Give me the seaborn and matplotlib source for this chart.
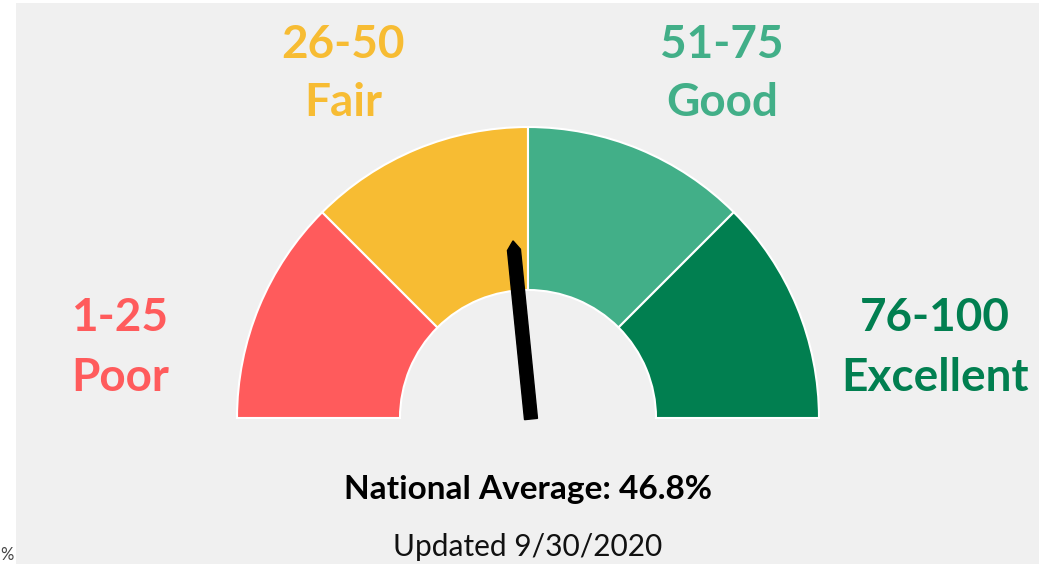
import numpy as np
import matplotlib
matplotlib.use("Agg")
import matplotlib.pyplot as plt
from matplotlib.patches import Wedge, Polygon, Rectangle
import seaborn as sns

# ── data ──────────────────────────────────────────────────────
range_labels = ["1-25", "26-50", "51-75", "76-100"]
rating_labels = ["Poor", "Fair", "Good", "Excellent"]
range_sizes = [25, 25, 25, 25]
national_average = 46.8
updated = "9/30/2020"

colors = sns.color_palette(["#FF5B5C", "#F7BC33", "#42AF88", "#017F50"])

# ── figure ────────────────────────────────────────────────────
sns.set_style("white")
plt.rcParams["font.family"] = ["Lato", "DejaVu Sans"]

W, H = 1039, 564
fig = plt.figure(figsize=(W / 100, H / 100), dpi=100, facecolor="white")
ax = fig.add_axes([0, 0, 1, 1])
ax.set_xlim(0, W)
ax.set_ylim(0, H)
ax.set_aspect("equal")
ax.axis("off")

# gray panel
ax.add_patch(Rectangle((16, 0), W - 16, H - 3, facecolor="#f0f0f0", edgecolor="none", zorder=0))

# gauge
cx, cy = 528, H - 418
r_out, r_in = 291, 128
total = sum(range_sizes)
start = 0
for size, col in zip(range_sizes, colors):
    t1 = 180 - start / total * 180
    t2 = 180 - (start + size) / total * 180
    ax.add_patch(Wedge((cx, cy), r_out, t2, t1, width=r_out - r_in,
                       facecolor=col, edgecolor="white", linewidth=1.5, zorder=2))
    start += size

# needle
ang = np.deg2rad(180 - national_average / total * 180)
d = np.array([np.cos(ang), np.sin(ang)])
n = np.array([-d[1], d[0]])
base = np.array([cx + 3, cy - 1])
hw = 6.5
body, tip = 170, 179
pts = [base - n * hw, base + n * hw,
       base + d * body + n * hw, base + d * tip, base + d * body - n * hw]
ax.add_patch(Polygon(pts, closed=True, facecolor="black", edgecolor="black", zorder=3))

# labels
label_pos = [(120, 318, 378), (343, 45, 103), (722, 45, 103), (935, 318, 378)]
for (x, y1, y2), rl, tl, col in zip(label_pos, range_labels, rating_labels, colors):
    ax.text(x, H - y1, rl, color=col, fontsize=33, fontweight="bold", ha="center", va="center")
    ax.text(x, H - y2, tl, color=col, fontsize=33, fontweight="bold", ha="center", va="center")

ax.text(cx, H - 490, f"National Average: {national_average}%", fontsize=24,
        fontweight="bold", ha="center", va="center", color="black")
ax.text(cx, H - 547, f"Updated {updated}", fontsize=21.5, ha="center", va="center", color="#111111")
ax.text(0, H - 555, "%", fontsize=12, ha="left", va="center", color="#444444")

fig.savefig("out.png", dpi=100, facecolor="white")
